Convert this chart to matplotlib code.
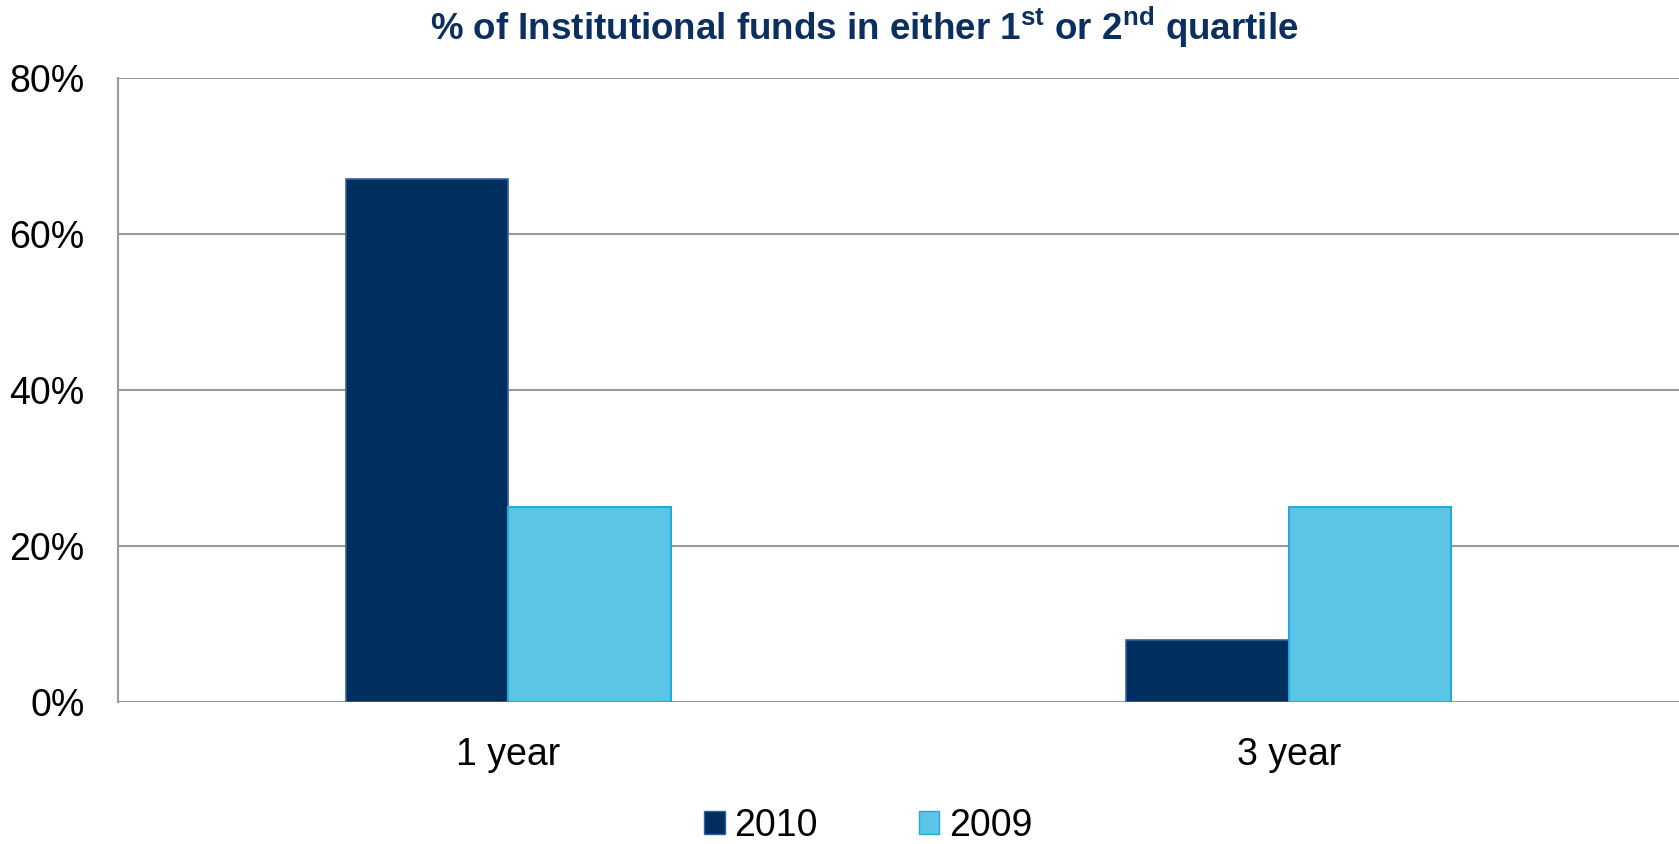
import numpy as np
import matplotlib
matplotlib.use("Agg")
import matplotlib.pyplot as plt
from matplotlib import font_manager
from matplotlib.patches import Patch
from matplotlib.ticker import PercentFormatter

categories = ["1 year", "3 year"]
series_names = ["2010", "2009"]
vals_2010 = [67, 8]
vals_2009 = [25, 25]

navy = "#002F5F"
navy_edge = "#2F63A0"
sky = "#5BC5E7"
sky_edge = "#22ABD9"

# narrow bold face for the title if it is around
names = set(f.name for f in font_manager.fontManager.ttflist)
title_font = "Liberation Sans Narrow" if "Liberation Sans Narrow" in names else "Liberation Sans"
title_size = 23 if title_font == "Liberation Sans Narrow" else 26.5

plt.rcParams["font.family"] = ["Liberation Sans", "DejaVu Sans"]
plt.rcParams["mathtext.fontset"] = "custom"
plt.rcParams["mathtext.bf"] = title_font + ":bold"
plt.rcParams["mathtext.rm"] = title_font + ":bold"

fig = plt.figure(figsize=(16.79, 8.44), dpi=100)
ax = fig.add_axes([0.0703, 0.1682, 0.9297, 0.7394])

x = np.arange(len(categories))
w = 0.2085
ax.bar(x - w / 2, vals_2010, w, color=navy, edgecolor=navy_edge, linewidth=1.2, zorder=3)
ax.bar(x + w / 2, vals_2009, w, color=sky, edgecolor=sky_edge, linewidth=1.5, zorder=3)

ax.set_xlim(-0.5, 1.5)
ax.set_ylim(0, 80)
ax.set_yticks([0, 20, 40, 60, 80])
ax.yaxis.set_major_formatter(PercentFormatter(decimals=0))
ax.set_xticks(x)
ax.set_xticklabels(categories)
ax.tick_params(axis="both", length=0, labelsize=27)
ax.tick_params(axis="y", pad=24)
ax.tick_params(axis="x", pad=25)

ax.yaxis.grid(True, color="#999999", linewidth=1.5, zorder=0)
for side in ["top", "right", "bottom"]:
    ax.spines[side].set_visible(False)
ax.spines["left"].set_color("#999999")
ax.spines["left"].set_linewidth(1.5)

fig.text(864 / 1679, 1 - 27 / 844,
         r"% of Institutional funds in either 1$^{\mathbf{st}}$ or 2$^{\mathbf{nd}}$ quartile",
         ha="center", va="center", fontsize=title_size, fontweight="bold",
         family=title_font, color="#0B2F5E")

handles = [Patch(facecolor=navy, edgecolor=navy_edge, label=series_names[0]),
           Patch(facecolor=sky, edgecolor=sky_edge, label=series_names[1])]
fig.legend(handles=handles, loc="center", ncol=2, frameon=False,
           bbox_to_anchor=(868 / 1679, 1 - 826 / 844), fontsize=27,
           handlelength=0.55, handleheight=0.55, handletextpad=0.25,
           columnspacing=2.7, borderpad=0, borderaxespad=0)

fig.savefig("out.png", dpi=100)
